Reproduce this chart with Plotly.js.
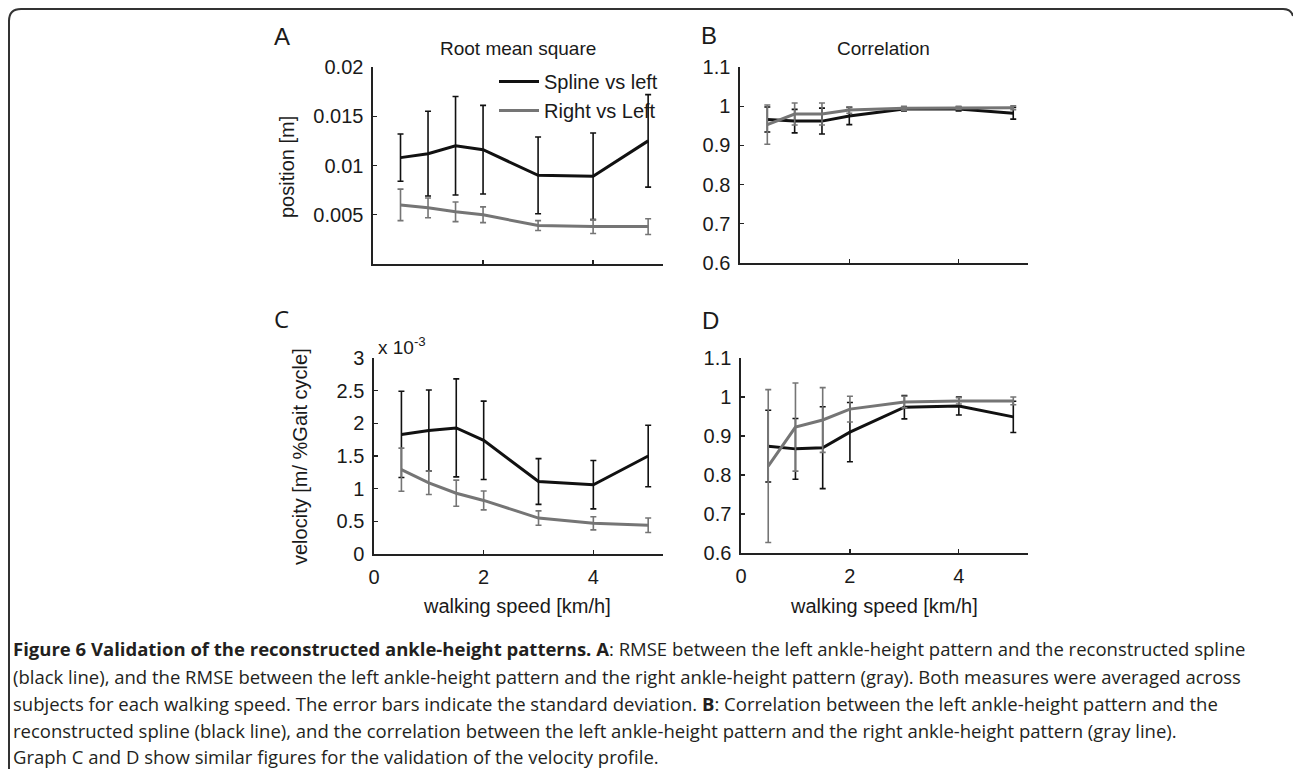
<!DOCTYPE html>
<html>
<head>
<meta charset="utf-8">
<script src="https://cdn.plot.ly/plotly-3.0.1.min.js"></script>
<style>html,body{margin:0;padding:0;background:#fff;}#chart{width:1293px;height:769px;}</style>
</head>
<body>
<div id="chart"></div>
<script>
// walking speeds (km/h)
const speeds = [0.5, 1, 1.5, 2, 3, 4, 5];
const seriesNames = ["Spline vs left", "Right vs Left"];

// A: RMSE position [m]
const rmsePosSpline = [0.0108, 0.0112, 0.0120, 0.0116, 0.0090, 0.0089, 0.0125];
const rmsePosSplineSD = [0.0024, 0.0043, 0.0050, 0.0045, 0.0039, 0.0044, 0.0047];
const rmsePosRight = [0.0060, 0.0057, 0.0053, 0.0050, 0.0039, 0.0038, 0.0038];
const rmsePosRightSD = [0.0016, 0.0010, 0.0010, 0.0008, 0.0005, 0.0007, 0.0008];

// B: correlation position
const corrPosSpline = [0.966, 0.962, 0.962, 0.975, 0.993, 0.993, 0.982];
const corrPosSplineSD = [0.032, 0.030, 0.033, 0.022, 0.005, 0.005, 0.015];
const corrPosRight = [0.953, 0.980, 0.980, 0.990, 0.995, 0.996, 0.996];
const corrPosRightSD = [0.050, 0.028, 0.028, 0.008, 0.005, 0.004, 0.005];

// C: RMSE velocity [x 10^-3 m/%Gait cycle]
const rmseVelSpline = [1.83, 1.89, 1.93, 1.74, 1.11, 1.06, 1.50];
const rmseVelSplineSD = [0.66, 0.62, 0.75, 0.60, 0.35, 0.37, 0.47];
const rmseVelRight = [1.29, 1.09, 0.93, 0.82, 0.55, 0.47, 0.44];
const rmseVelRightSD = [0.33, 0.18, 0.20, 0.145, 0.11, 0.10, 0.11];

// D: correlation velocity
const corrVelSpline = [0.874, 0.867, 0.870, 0.910, 0.974, 0.977, 0.949];
const corrVelSplineSD = [0.092, 0.078, 0.105, 0.076, 0.030, 0.023, 0.040];
const corrVelRight = [0.823, 0.923, 0.941, 0.969, 0.987, 0.990, 0.990];
const corrVelRightSD = [0.196, 0.113, 0.083, 0.033, 0.015, 0.008, 0.010];

const xTicks = [0, 2, 4];
const posTicks = [0.005, 0.01, 0.015, 0.02];
const posTickText = ["0.005", "0.01", "0.015", "0.02"];
const velTicks = [0, 0.5, 1, 1.5, 2, 2.5, 3];
const velTickText = ["0", "0.5", "1", "1.5", "2", "2.5", "3"];
const corrTicks = [0.6, 0.7, 0.8, 0.9, 1, 1.1];
const corrTickText = ["0.6", "0.7", "0.8", "0.9", "1", "1.1"];

const captionLines = [
  "<b>Figure 6 Validation of the reconstructed ankle-height patterns. A</b>: RMSE between the left ankle-height pattern and the reconstructed spline",
  "(black line), and the RMSE between the left ankle-height pattern and the right ankle-height pattern (gray). Both measures were averaged across",
  "subjects for each walking speed. The error bars indicate the standard deviation. <b>B</b>: Correlation between the left ankle-height pattern and the",
  "reconstructed spline (black line), and the correlation between the left ankle-height pattern and the right ankle-height pattern (gray line).",
  "Graph C and D show similar figures for the validation of the velocity profile."
];

const W = 1293, H = 769;
const PX = v => v / W;
const PY = v => 1 - v / H;

const BLACK = "#111111", GRAY = "#757575";

function tr(y, sd, xa, ya, color, name, showLeg) {
  return {
    x: speeds, y: y, xaxis: xa, yaxis: ya, type: "scatter", mode: "lines",
    name: name, showlegend: showLeg, legendgroup: name,
    line: {color: color, width: 3},
    error_y: {type: "data", array: sd, visible: true, color: color, thickness: 1.6, width: 3}
  };
}

const data = [
  tr(rmsePosSpline, rmsePosSplineSD, "x", "y", BLACK, seriesNames[0], true),
  tr(rmsePosRight, rmsePosRightSD, "x", "y", GRAY, seriesNames[1], true),
  tr(corrPosSpline, corrPosSplineSD, "x2", "y2", BLACK, seriesNames[0], false),
  tr(corrPosRight, corrPosRightSD, "x2", "y2", GRAY, seriesNames[1], false),
  tr(rmseVelSpline, rmseVelSplineSD, "x3", "y3", BLACK, seriesNames[0], false),
  tr(rmseVelRight, rmseVelRightSD, "x3", "y3", GRAY, seriesNames[1], false),
  tr(corrVelSpline, corrVelSplineSD, "x4", "y4", BLACK, seriesNames[0], false),
  tr(corrVelRight, corrVelRightSD, "x4", "y4", GRAY, seriesNames[1], false)
];

const FONT = "Liberation Sans, Arial, sans-serif";
const tickFont = {family: FONT, size: 20, color: "#1a1a1a"};

function xax(l, r, anchor, labels) {
  return {
    domain: [PX(l), PX(r)], anchor: anchor, range: [0, 5.27],
    tickvals: xTicks, ticktext: xTicks.map(String), showticklabels: labels,
    ticks: "inside", ticklen: 4, tickwidth: 1.3, tickcolor: "#222",
    showline: true, linecolor: "#222", linewidth: 1.6,
    showgrid: false, zeroline: false, tickfont: tickFont, ticklabelstandoff: 4,
    fixedrange: true
  };
}
function yax(top, bot, anchor, range, tv, tt) {
  return {
    domain: [PY(bot), PY(top)], anchor: anchor, range: range,
    tickvals: tv, ticktext: tt,
    ticks: "inside", ticklen: 4, tickwidth: 1.3, tickcolor: "#222",
    showline: true, linecolor: "#222", linewidth: 1.6,
    showgrid: false, zeroline: false, tickfont: tickFont, ticklabelstandoff: 4,
    fixedrange: true
  };
}

const ann = [];
function txt(x, y, text, size, extra) {
  ann.push(Object.assign({
    xref: "paper", yref: "paper", x: PX(x), y: PY(y), text: text, showarrow: false,
    xanchor: "center", yanchor: "middle", font: {family: FONT, size: size, color: "#1a1a1a"}
  }, extra || {}));
}
// panel letters
txt(282, 37, "A", 24);
txt(709, 36, "B", 24);
txt(281, 319, "C", 24, {font: {family: "Open Sans, sans-serif", size: 24, color: "#1a1a1a"}});
txt(710, 320, "D", 24);
// panel titles
txt(518, 48, "Root mean square", 19);
txt(884, 48, "Correlation", 19);
// y-axis titles
txt(287, 167, "position [m]", 20, {textangle: -90});
txt(300, 457, "velocity [m/ %Gait cycle]", 20, {textangle: -90});
// x-axis titles
txt(517, 606, "walking speed [km/h]", 20);
txt(884, 606, "walking speed [km/h]", 20);
// exponent
txt(376, 346, "x 10<sup>-3</sup>", 19, {xanchor: "left"});
// caption
const capY = [648, 676, 703, 730, 756];
captionLines.forEach((t, i) => {
  ann.push({
    xref: "paper", yref: "paper", x: PX(11), y: PY(capY[i]), text: t, showarrow: false,
    xanchor: "left", yanchor: "middle", align: "left",
    font: {family: "Open Sans, sans-serif", size: 18.5, color: "#231f20"}
  });
});

const frame = "M " + PX(9) + "," + PY(769) + " L " + PX(9) + "," + PY(21) +
  " Q " + PX(9) + "," + PY(9) + " " + PX(21) + "," + PY(9) +
  " L " + PX(1283) + "," + PY(9) +
  " Q " + PX(1291) + "," + PY(9) + " " + PX(1293) + "," + PY(16);

const layout = {
  width: W, height: H,
  margin: {l: 0, r: 0, t: 0, b: 0},
  paper_bgcolor: "#ffffff", plot_bgcolor: "rgba(0,0,0,0)",
  showlegend: true,
  legend: {
    x: PX(494), y: PY(62), xanchor: "left", yanchor: "top",
    bgcolor: "rgba(0,0,0,0)", borderwidth: 0,
    font: {family: FONT, size: 20, color: "#1a1a1a"},
    itemwidth: 40, tracegroupgap: 0
  },
  xaxis: xax(373, 663, "y", false),
  yaxis: yax(67, 264, "x", [0, 0.02], posTicks, posTickText),
  xaxis2: xax(740, 1028, "y2", false),
  yaxis2: yax(67, 263, "x2", [0.6, 1.1], corrTicks, corrTickText),
  xaxis3: xax(374, 663, "y3", true),
  yaxis3: yax(358, 554, "x3", [0, 3], velTicks, velTickText),
  xaxis4: xax(741, 1028, "y4", true),
  yaxis4: yax(358, 553, "x4", [0.6, 1.1], corrTicks, corrTickText),
  annotations: ann,
  shapes: [{type: "path", xref: "paper", yref: "paper", path: frame, line: {color: "#333", width: 2}}]
};

Plotly.newPlot("chart", data, layout, {displayModeBar: false, staticPlot: true});
</script>
</body>
</html>
